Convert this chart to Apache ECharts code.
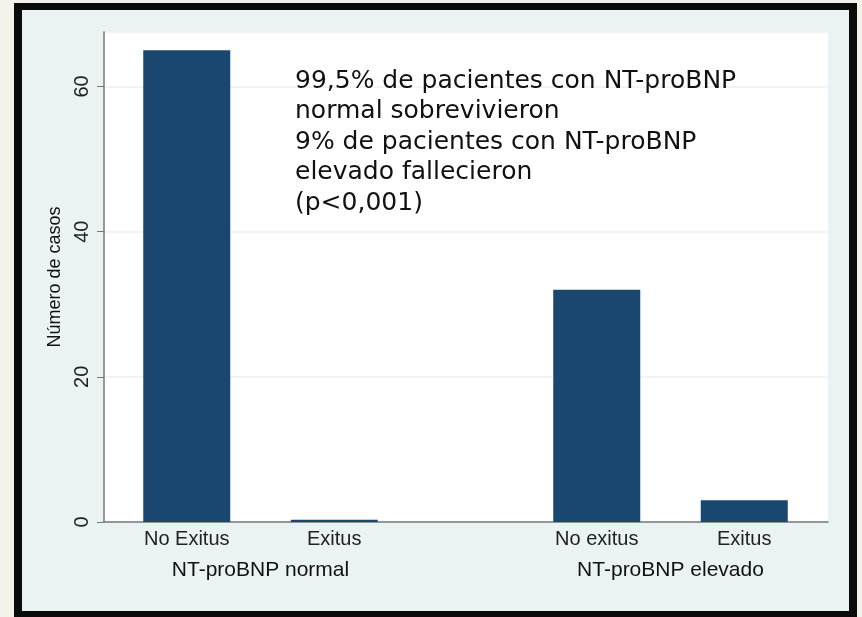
<!DOCTYPE html>
<html>
<head>
<meta charset="utf-8">
<script src="https://cdn.jsdelivr.net/npm/echarts@6/dist/echarts.min.js"></script>
<style>
html, body { margin: 0; padding: 0; background: #F3F2EB; }
#frame { position: absolute; left: 14px; top: 3px; width: 843px; height: 616px; box-sizing: border-box;
  border: 8px solid #0b0b0b; border-top-width: 7px; background: #EAF2F3; }
#chart { position: absolute; left: 0; top: 0; width: 862px; height: 617px; }
</style>
</head>
<body>
<div id="frame"></div>
<div id="chart"></div>
<script>
// grupos y categorias
var grupos = ['NT-proBNP normal', 'NT-proBNP elevado'];
var catNormal = ['No Exitus', 'Exitus'];
var catElevado = ['No exitus', 'Exitus'];
var casosNormal = [65, 0.3];
var casosElevado = [32, 3];
var yTicks = [0, 20, 40, 60];
var nota = [
	'99,5% de pacientes con NT-proBNP',
	'normal sobrevivieron',
	'9% de pacientes con NT-proBNP',
	'elevado fallecieron',
	'(p<0,001)'
];

var myChart = echarts.init(document.getElementById('chart'));
var azul = '#1a476f';
var fuente = 'Liberation Sans, Arial, sans-serif';
var yMax = 67.5;

// eje y oculto para los grids de barras
function yOculto(idx) {
	return {
		type: 'value', gridIndex: idx, min: 0, max: yMax,
		show: false, splitLine: { show: false }
	};
}
function xGrupo(idx, cats, nombre) {
	return {
		type: 'category', gridIndex: idx, data: cats,
		name: nombre, nameLocation: 'middle', nameGap: 38,
		nameTextStyle: { color: '#111', fontSize: 21, fontFamily: fuente },
		axisLine: { show: false },
		axisTick: { show: false },
		axisLabel: { color: '#222', fontSize: 20, fontFamily: fuente, margin: 7 }
	};
}

var option = {
	backgroundColor: 'transparent',
	animation: false,
	grid: [
		{ left: 104, width: 724, top: 32, bottom: 95, show: true, backgroundColor: '#fff', borderWidth: 0 },
		{ left: 113, width: 295, top: 32, bottom: 95 },
		{ left: 523, width: 295, top: 32, bottom: 95 }
	],
	xAxis: [
		{
			type: 'value', gridIndex: 0, min: 0, max: 1,
			axisLine: { show: true, onZero: false, lineStyle: { color: '#777', width: 1.5 } },
			axisTick: { show: false }, axisLabel: { show: false }, splitLine: { show: false }
		},
		xGrupo(1, catNormal, grupos[0]),
		xGrupo(2, catElevado, grupos[1])
	],
	yAxis: [
		{
			type: 'value', gridIndex: 0, min: 0, max: yMax, interval: 20,
			name: 'Número de casos', nameLocation: 'middle', nameGap: 36,
			nameTextStyle: { color: '#111', fontSize: 18, fontFamily: fuente },
			axisLine: { show: true, lineStyle: { color: '#777', width: 1.5 } },
			axisTick: { show: true, length: 7, lineStyle: { color: '#777' } },
			axisLabel: {
				rotate: 90, margin: 12, color: '#222', fontSize: 20, fontFamily: fuente,
				showMaxLabel: false,
				formatter: function(v) { return yTicks.indexOf(v) >= 0 ? String(v) : ''; }
			},
			splitLine: { show: true, lineStyle: { color: '#EEF1F1', width: 1.5 } }
		},
		yOculto(1),
		yOculto(2)
	],
	series: [
		{
			type: 'bar', xAxisIndex: 1, yAxisIndex: 1, data: casosNormal,
			barWidth: 87, itemStyle: { color: azul }
		},
		{
			type: 'bar', xAxisIndex: 2, yAxisIndex: 2, data: casosElevado,
			barWidth: 87, itemStyle: { color: azul }
		}
	],
	graphic: [{
		type: 'text', left: 295, top: 66, z: 100,
		style: {
			text: nota.join('\n'),
			fill: '#111',
			font: '25px "DejaVu Sans", sans-serif',
			lineHeight: 30.5
		}
	}]
};
myChart.setOption(option);
</script>
</body>
</html>
